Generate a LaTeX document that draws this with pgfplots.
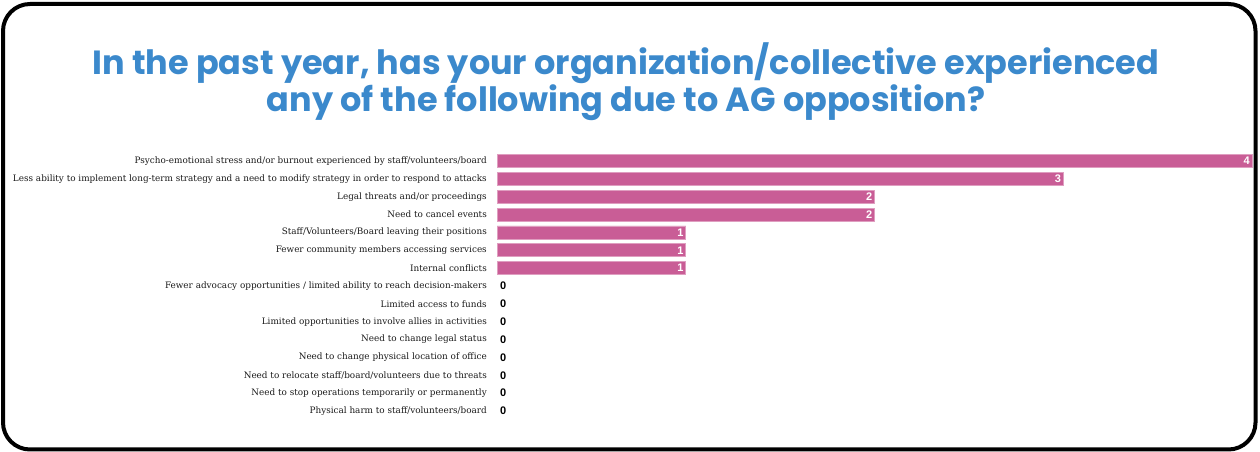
\documentclass[border=0pt]{standalone}
\usepackage{fontspec}
\setmainfont{DejaVu Serif}
\newfontfamily\titlefont{Poppins}
\newfontfamily\numfont{Liberation Sans}
\usepackage{pgfplots}
\pgfplotsset{compat=1.18}
\definecolor{barpink}{RGB}{201,93,150}
\definecolor{titleblue}{RGB}{59,137,204}
\newcommand{\numlab}{\numfont\bfseries\fontsize{11}{11}\selectfont\pgfmathprintnumber[assume math mode=true]{\pgfplotspointmeta}}
\begin{document}
\begin{tikzpicture}[x=1pt,y=1pt]
\useasboundingbox (0,0) rectangle (1260,452);
\draw[line width=4pt, rounded corners=27pt] (3,2.5) rectangle (1255.5,448);
\node[text=titleblue, font=\titlefont\bfseries\fontsize{33.5}{37}\selectfont, align=center] at (626,370) {In the past year, has your organization/collective experienced\\any of the following due to AG opposition?};
\begin{axis}[
  at={(497pt,291pt)}, anchor=north west,
  scale only axis, width=755pt, height=250pt,
  xmin=0, xmax=4, ymin=0, ymax=14, y dir=reverse,
  enlargelimits=false,
  xbar, bar width=13pt, bar shift=0pt,
  axis line style={draw=none}, tick style={draw=none},
  major tick length=0pt,
  xtick=\empty,
  ytick={0,...,14},
  yticklabels={
    Psycho-emotional stress and/or burnout experienced by staff/volunteers/board,
    Less ability to implement long-term strategy and a need to modify strategy in order to respond to attacks,
    Legal threats and/or proceedings,
    Need to cancel events,
    Staff/Volunteers/Board leaving their positions,
    Fewer community members accessing services,
    Internal conflicts,
    Fewer advocacy opportunities / limited ability to reach decision-makers,
    Limited access to funds,
    Limited opportunities to involve allies in activities,
    Need to change legal status,
    Need to change physical location of office,
    Need to relocate staff/board/volunteers due to threats,
    Need to stop operations temporarily or permanently,
    Physical harm to staff/volunteers/board},
  yticklabel style={font=\fontsize{8.85}{10}\selectfont, anchor=east, inner sep=0pt, xshift=-10pt, text=black!90},
  clip=false,
]
\addplot[fill=barpink, draw=barpink!60!white, line width=0.6pt,
  nodes near coords={\numlab}, point meta=x,
  every node near coord/.append style={anchor=east, text=white, xshift=-1pt, inner sep=1pt}]
  coordinates {(4,0) (3,1) (2,2) (2,3) (1,4) (1,5) (1,6)};
\addplot[draw=none, fill=none,
  nodes near coords={\numlab}, point meta=x,
  every node near coord/.append style={anchor=west, text=black, xshift=2pt, inner sep=1pt}]
  coordinates {(0,7) (0,8) (0,9) (0,10) (0,11) (0,12) (0,13) (0,14)};
\end{axis}
\end{tikzpicture}
\end{document}
